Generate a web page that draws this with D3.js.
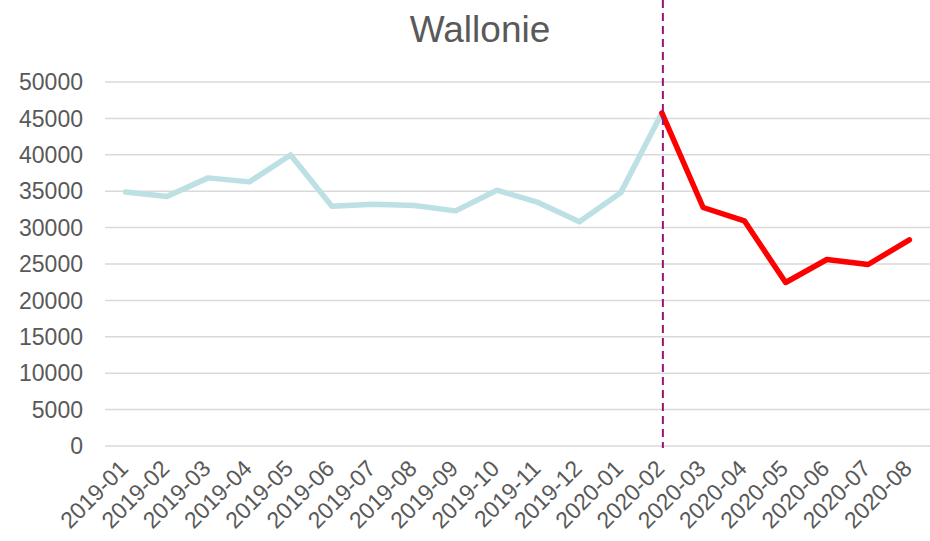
<!DOCTYPE html>
<html>
<head>
<meta charset="utf-8">
<script src="https://cdn.jsdelivr.net/npm/d3@7"></script>
<style>
  body { margin: 0; background: #fff; }
  text { font-family: "Liberation Sans", Arial, sans-serif; fill: #595959; }
</style>
</head>
<body>
<div id="chart"></div>
<script>
// Monthly values, Wallonie
const months = ['2019-01', '2019-02', '2019-03', '2019-04', '2019-05', '2019-06', '2019-07',
    '2019-08', '2019-09', '2019-10', '2019-11', '2019-12', '2020-01', '2020-02',
    '2020-03', '2020-04', '2020-05', '2020-06', '2020-07', '2020-08'];
const values = [34900, 34270, 36830, 36280, 39980, 32940, 33210, 33030, 32300, 35140,
    33450, 30790, 34770, 45750, 32760, 30930, 22460, 25620, 24930, 28320];
const yTicks = [0, 5000, 10000, 15000, 20000, 25000, 30000, 35000, 40000, 45000, 50000];
const splitMonth = '2020-02';

const width = 930;
const height = 541;
const margin = { top: 82, right: 0, bottom: 95, left: 105 };

const svg = d3.select('#chart')
    .append('svg')
    .attr('width', width)
    .attr('height', height);

const x = d3.scaleBand()
    .domain(months)
    .range([margin.left, width - margin.right]);

const y = d3.scaleLinear()
    .domain([0, 50000])
    .range([height - margin.bottom, margin.top]);

const cx = d => x(d) + x.bandwidth() / 2;

// Title
svg.append('text')
    .attr('x', 480)
    .attr('y', 42)
    .attr('text-anchor', 'middle')
    .style('font-size', '37px')
    .text('Wallonie');

// Gridlines
svg.append('g')
    .selectAll('line')
    .data(yTicks)
    .enter()
    .append('line')
    .attr('x1', margin.left)
    .attr('x2', width - margin.right)
    .attr('y1', d => y(d))
    .attr('y2', d => y(d))
    .attr('stroke', '#d9d9d9')
    .attr('stroke-width', 1.5);

// Y labels
svg.append('g')
    .selectAll('text')
    .data(yTicks)
    .enter()
    .append('text')
    .attr('x', 83)
    .attr('y', d => y(d))
    .attr('dy', '0.36em')
    .attr('text-anchor', 'end')
    .style('font-size', '23px')
    .text(d => d);

// X labels, rotated
svg.append('g')
    .selectAll('text')
    .data(months)
    .enter()
    .append('text')
    .attr('text-anchor', 'end')
    .attr('transform', d => `translate(${cx(d) + 4},${470}) rotate(-45)`)
    .style('font-size', '23px')
    .text(d => d);

// Lines: before and after the split
const splitIdx = months.indexOf(splitMonth);
const points = months.map((m, i) => ({ m, v: values[i] }));
const line = d3.line().x(d => cx(d.m)).y(d => y(d.v));

svg.append('path')
    .datum(points.slice(0, splitIdx + 1))
    .attr('d', line)
    .attr('fill', 'none')
    .attr('stroke', '#bce0e3')
    .attr('stroke-width', 5.5)
    .attr('stroke-linejoin', 'round')
    .attr('stroke-linecap', 'round');

svg.append('path')
    .datum(points.slice(splitIdx))
    .attr('d', line)
    .attr('fill', 'none')
    .attr('stroke', '#ff0000')
    .attr('stroke-width', 5.5)
    .attr('stroke-linejoin', 'round')
    .attr('stroke-linecap', 'round');

// Dashed marker at the split month
svg.append('line')
    .attr('x1', cx(splitMonth) + 1)
    .attr('x2', cx(splitMonth) + 1)
    .attr('y1', 0)
    .attr('y2', y(0) + 2)
    .attr('stroke', '#9b1472')
    .attr('stroke-width', 2)
    .attr('stroke-dasharray', '8,5');
</script>
</body>
</html>
